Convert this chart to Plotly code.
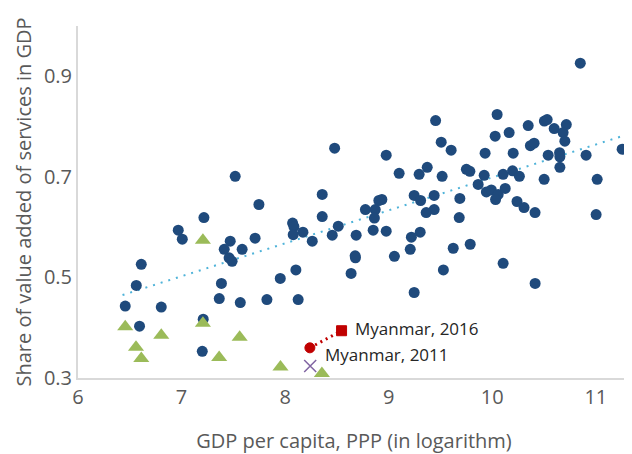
import plotly.graph_objects as go

# GDP per capita (log) and share of services in GDP, by country
gdp_log = [10.85, 10.047, 9.453, 8.478, 8.976, 9.507, 9.603, 10.028, 10.163, 10.347,
           10.503, 10.530, 10.598, 10.715, 10.684, 10.701, 10.368, 10.404, 9.931, 10.202,
           10.540, 10.650, 10.653, 10.906, 11.254, 10.653, 10.501, 11.013, 11.003, 9.101,
           9.294, 9.372, 9.516, 9.750, 9.784, 9.922, 10.105, 10.196, 10.262, 9.864,
           9.943, 9.991, 10.057, 10.032, 10.125, 10.239, 10.307, 10.413, 9.687, 9.681,
           9.439, 9.246, 9.308, 9.439, 9.362, 8.934, 8.905, 8.775, 8.870, 8.862,
           8.358, 8.358, 8.513, 8.850, 8.976, 9.304, 9.219, 9.208, 9.055, 8.679,
           8.676, 8.637, 9.246, 9.528, 9.623, 9.787, 10.105, 10.414, 8.455, 8.686,
           8.262, 8.172, 8.072, 8.085, 8.078, 8.104, 7.953, 7.824, 8.126, 7.518,
           7.747, 7.216, 6.968, 7.007, 7.470, 7.412, 7.585, 7.710, 7.459, 7.488,
           6.611, 6.563, 7.385, 6.456, 6.804, 7.364, 7.567, 6.594, 7.209, 7.200]
services = [0.926, 0.824, 0.812, 0.757, 0.743, 0.769, 0.753, 0.781, 0.788, 0.802,
            0.811, 0.814, 0.796, 0.804, 0.788, 0.771, 0.762, 0.767, 0.747, 0.747,
            0.743, 0.748, 0.740, 0.743, 0.755, 0.719, 0.695, 0.695, 0.625, 0.707,
            0.705, 0.719, 0.701, 0.715, 0.711, 0.703, 0.705, 0.712, 0.701, 0.685,
            0.670, 0.674, 0.665, 0.655, 0.677, 0.651, 0.639, 0.629, 0.657, 0.619,
            0.663, 0.663, 0.653, 0.635, 0.629, 0.655, 0.653, 0.635, 0.635, 0.618,
            0.665, 0.621, 0.602, 0.594, 0.592, 0.590, 0.580, 0.556, 0.542, 0.539,
            0.543, 0.508, 0.470, 0.515, 0.558, 0.566, 0.528, 0.488, 0.584, 0.584,
            0.572, 0.590, 0.608, 0.601, 0.585, 0.515, 0.498, 0.456, 0.456, 0.701,
            0.645, 0.619, 0.594, 0.576, 0.572, 0.556, 0.556, 0.578, 0.539, 0.532,
            0.526, 0.484, 0.488, 0.443, 0.441, 0.458, 0.450, 0.403, 0.417, 0.353]

# second group (triangles)
tri_gdp = [6.456, 6.560, 6.611, 6.804, 7.206, 7.363, 7.561, 7.955, 8.355, 7.206]
tri_services = [0.402, 0.361, 0.339, 0.385, 0.409, 0.341, 0.381, 0.322, 0.309, 0.574]

cross_gdp = [8.242]
cross_services = [0.324]

myanmar_gdp = [8.239, 8.545]
myanmar_services = [0.360, 0.394]
myanmar_labels = ['Myanmar, 2011', 'Myanmar, 2016']

trend_x = [6.43, 11.30]
trend_y = [0.465, 0.784]

fig = go.Figure()

fig.add_trace(go.Scatter(
    x=trend_x, y=trend_y, mode='lines',
    line=dict(color='#4FB3D9', width=2, dash='2px,6px'),
    hoverinfo='skip'
))

fig.add_trace(go.Scatter(
    x=gdp_log, y=services, mode='markers',
    marker=dict(color='#1F4A7C', size=11)
))

fig.add_trace(go.Scatter(
    x=tri_gdp, y=tri_services, mode='markers',
    marker=dict(color='#9BBB59', size=14, symbol='triangle-up')
))

fig.add_trace(go.Scatter(
    x=cross_gdp, y=cross_services, mode='markers',
    marker=dict(color='#8064A2', size=12, symbol='x-thin',
                line=dict(color='#8064A2', width=1.5))
))

fig.add_trace(go.Scatter(
    x=myanmar_gdp, y=myanmar_services, mode='lines+markers',
    line=dict(color='#C00000', width=3, dash='2px,4px'),
    marker=dict(color='#C00000', size=10, symbol=['circle', 'square'],
                line=dict(color='#C00000', width=1))
))

# labels for the two Myanmar points
fig.add_annotation(x=myanmar_gdp[1], y=myanmar_services[1], text=myanmar_labels[1],
                   showarrow=False, xanchor='left', xshift=11, yshift=2,
                   font=dict(size=17, color='#262626'))
fig.add_annotation(x=myanmar_gdp[0], y=myanmar_services[0], text=myanmar_labels[0],
                   showarrow=False, xanchor='left', xshift=13, yshift=-7,
                   font=dict(size=17, color='#262626'))

# page body adds an 8px offset, so the figure is sized to fit what is visible
fig.update_layout(
    width=624, height=446,
    margin=dict(l=70, r=2, t=18, b=76),
    paper_bgcolor='white', plot_bgcolor='white',
    showlegend=False,
    font=dict(family='Open Sans', color='#595959'),
)

fig.update_xaxes(
    range=[6, 11.33], tickvals=[6, 7, 8, 9, 10, 11],
    showgrid=False, zeroline=False, automargin=False,
    showline=True, linecolor='#D9D9D9', linewidth=2,
    ticks='', tickfont=dict(size=20, color='#595959'),
    title=dict(text='GDP per capita, PPP (in logarithm)', font=dict(size=20, color='#595959'),
               standoff=29),
)
fig.update_yaxes(
    range=[0.3, 1.0], tickvals=[0.3, 0.5, 0.7, 0.9], tickformat='.1f',
    showgrid=False, zeroline=False, automargin=False,
    showline=True, linecolor='#D9D9D9', linewidth=2,
    ticks='', tickfont=dict(size=20, color='#595959'),
    title=dict(text='Share of value added of services in GDP', font=dict(size=20, color='#595959'),
               standoff=7),
)

fig.write_html("out.html")
